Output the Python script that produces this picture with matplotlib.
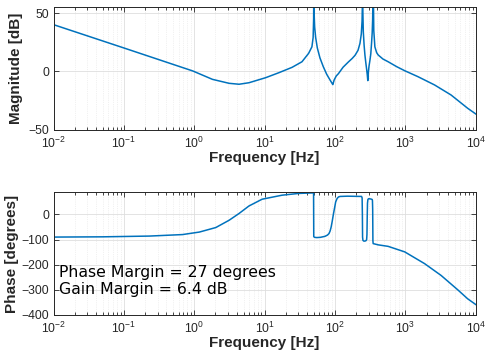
import matplotlib.pyplot as plt

plt.rcParams['font.family'] = ['Liberation Sans', 'DejaVu Sans']
plt.rcParams['mathtext.fontset'] = 'custom'
plt.rcParams['mathtext.rm'] = 'Liberation Sans'
plt.rcParams['mathtext.default'] = 'regular'

# magnitude response [Hz, dB]
mag_freq = [0.01, 0.1, 0.95, 1.81, 3.12, 4.32, 5.98, 10.3, 15.9, 24.5, 33.9,
            42.1, 46.9, 48.8, 49.6, 50.0, 50.4, 51.3, 53.0, 56.0, 61.0, 68.0, 76.0,
            84.0, 90.0, 92.9, 97.0, 104.0, 111.7, 130.0, 154.6, 175.0, 192.2, 212.0,
            226.0, 236.0, 242.0, 245.0, 246.0, 247.5, 252.0, 259.0, 266.0, 274.0,
            280.0, 287.0, 292.0, 297.0, 304.0, 313.0, 322.0, 330.0, 337.0, 342.0,
            345.0, 348.0, 355.0, 368.0, 390.0, 410.0, 480.0, 568.0, 750.0, 977.0,
            1506.0, 2594.0, 4448.0, 7660.0, 10000.0]
mag_db = [40.0, 20.0, 0.3, -6.9, -10.3, -11.1, -9.8, -5.5, -1.2, 3.4, 8.2,
          15.4, 21.0, 29.0, 45.0, 80.0, 50.0, 38.0, 29.0, 20.0, 11.5, 4.0, -2.5,
          -7.0, -10.0, -11.4, -7.5, -4.0, -2.0, 3.5, 8.0, 11.0, 13.7, 18.0,
          24.0, 32.0, 43.0, 60.0, 80.0, 55.0, 34.0, 22.0, 13.7, 7.0,
          2.5, -3.0, -8.0, -1.0, 4.5, 9.4, 15.0, 24.0, 33.0, 44.0,
          60.0, 80.0, 35.0, 21.0, 16.0, 14.0, 10.5, 8.2, 4.0, 0.5,
          -4.6, -11.7, -20.3, -31.7, -36.6]

# phase response [Hz, degrees]
ph_freq = [0.01, 0.05, 0.23, 0.68, 1.18, 2.02, 3.12, 4.32, 5.98, 9.2, 17.7, 30.4, 47.0,
           49.5, 49.8, 51.0, 55.0, 62.0, 72.0, 78.0, 82.0, 85.0, 88.0, 91.0, 95.0,
           99.0, 102.0, 107.0, 112.0, 118.0, 150.0, 238.0, 242.5, 244.5, 246.0,
           249.0, 256.0, 266.0, 276.0, 281.0, 284.0, 286.5, 289.0, 293.0, 300.0,
           320.0, 337.0, 340.0, 342.5, 345.0, 348.0, 410.0, 568.0, 977.0, 1875.0,
           3215.0, 5530.0, 7660.0, 10000.0]
ph_deg = [-90.0, -89.0, -86.0, -80.0, -70.0, -52.0, -23.0, 4.0, 34.0, 61.0, 77.0, 84.0, 86.0,
          86.0, -88.0, -91.0, -92.0, -91.0, -87.0, -82.0, -76.0, -66.0, -50.0, -28.0, 3.0,
          30.0, 50.0, 64.0, 70.0, 72.0, 73.0, 72.0, 66.0, 0.0, -90.0,
          -103.0, -106.0, -106.0, -104.0, -100.0, -80.0, -10.0, 45.0, 60.0, 63.0,
          62.0, 60.0, 55.0, 20.0, -105.0, -116.0, -121.0, -127.0, -149.0, -196.0,
          -243.0, -300.0, -336.0, -359.0]

phase_margin = 27
gain_margin = 6.4

line_color = '#0072BD'
text_color = '#262626'

fig = plt.figure(figsize=(4.87, 3.59), dpi=100)
ax1 = fig.add_axes([0.110, 0.639, 0.867, 0.341])
ax2 = fig.add_axes([0.110, 0.123, 0.867, 0.341])


def style_axes(ax):
    ax.set_xscale('log')
    ax.set_xlim(1e-2, 1e4)
    ax.set_xticks([1e-2, 1e-1, 1e0, 1e1, 1e2, 1e3, 1e4])
    ax.grid(True, which='major', color='#dedede', linewidth=0.6)
    ax.grid(True, which='minor', color='#e4e4e4', linewidth=0.5, linestyle=':')
    ax.tick_params(which='both', direction='in', top=True, right=True,
                   colors=text_color, labelsize=8.8, width=0.6)
    ax.tick_params(which='major', length=3.5, pad=3)
    ax.tick_params(axis='x', which='major', pad=4.5)
    ax.tick_params(which='minor', length=2)
    for sp in ax.spines.values():
        sp.set_color(text_color)
        sp.set_linewidth(0.7)
    ax.set_xlabel('Frequency [Hz]', fontsize=11, fontweight='bold', color=text_color, labelpad=0)
    ax.set_axisbelow(True)


ax1.plot(mag_freq, mag_db, color=line_color, linewidth=1.1)
style_axes(ax1)
ax1.set_ylim(-50, 55)
ax1.set_yticks([-50, 0, 50])
ax1.set_ylabel('Magnitude [dB]', fontsize=11, fontweight='bold', color=text_color, labelpad=4)

ax2.plot(ph_freq, ph_deg, color=line_color, linewidth=1.1)
style_axes(ax2)
ax2.set_ylim(-400, 88)
ax2.set_yticks([-400, -300, -200, -100, 0])
ax2.set_ylabel('Phase [degrees]', fontsize=11, fontweight='bold', color=text_color, labelpad=2)

ax2.text(0.013, 0.345, 'Phase Margin = %d degrees' % phase_margin, transform=ax2.transAxes,
         fontsize=11.3, family='DejaVu Sans', color='black', va='center')
ax2.text(0.013, 0.205, 'Gain Margin = %.1f dB' % gain_margin, transform=ax2.transAxes,
         fontsize=11.3, family='DejaVu Sans', color='black', va='center')

fig.savefig('out.png', dpi=100)
